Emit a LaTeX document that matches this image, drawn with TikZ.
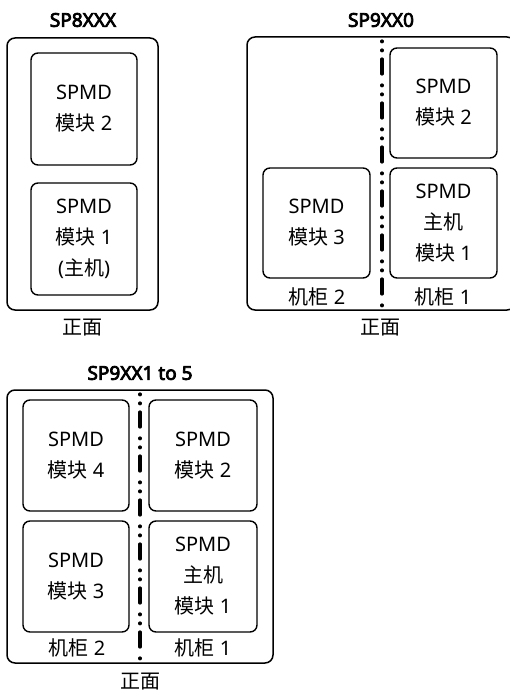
\documentclass[tikz,border=0pt]{standalone}
\usepackage{fontspec}
\setmainfont{Noto Sans}
\newfontfamily\cjk{Noto Sans CJK SC}
\newfontfamily\boldsans{Noto Sans}[FakeBold=4]
\newcommand\zh[1]{{\cjk #1}}
\begin{document}
\begin{tikzpicture}[x=1pt,y=-1pt,
  box/.style={draw, line width=1.5pt, rounded corners=8pt, inner sep=0pt},
  mod/.style={draw, line width=1.4pt, rounded corners=7pt, inner sep=0pt, align=center,
    font=\fontsize{20}{31}\selectfont},
  lbl/.style={font=\fontsize{20}{24}\selectfont, inner sep=0pt},
  ttl/.style={font=\fontsize{19}{24}\selectfont\boldsans, inner sep=0pt},
  divider/.style={line width=3.2pt, line cap=round,
    dash pattern=on 0.8pt off 8.2pt on 0.8pt off 8.2pt on 15pt off 11pt}]
\useasboundingbox (0,0) rectangle (510,690);

% ---------- SP8XXX ----------
\node[ttl] (t1) at (83,20) {SP8XXX};
\node[box, minimum width=151pt, minimum height=272pt] (b1) at (82.5,174) {};
\node[mod, minimum width=106pt, minimum height=112pt] (b1m2) at (84,109) {SPMD\\\zh{模块} 2};
\node[mod, minimum width=106pt, minimum height=112pt] (b1m1) at (84,239) {SPMD\\\zh{模块} 1\\(\zh{主机})};
\node[lbl] (f1) at (82,328) {\zh{正面}};

% ---------- SP9XX0 ----------
\node[ttl] (t2) at (381,20) {SP9XX0};
\node[box, minimum width=268pt, minimum height=273pt] (b2) at (381,173.5) {};
\coordinate (d2a) at (382,41);
\coordinate (d2b) at (382,308);
\draw[divider] (d2a) -- (d2b);
\node[mod, minimum width=107pt, minimum height=110pt] (b2m2) at (443.5,103) {SPMD\\\zh{模块} 2};
\node[mod, minimum width=107pt, minimum height=110pt] (b2m1) at (443.5,223) {SPMD\\\zh{主机}\\\zh{模块} 1};
\node[mod, minimum width=107pt, minimum height=110pt] (b2m3) at (316.5,223) {SPMD\\\zh{模块} 3};
\node[lbl] (c22) at (317,297) {\zh{机柜} 2};
\node[lbl] (c21) at (443,297) {\zh{机柜} 1};
\node[lbl] (f2) at (380,328) {\zh{正面}};

% ---------- SP9XX1 to 5 ----------
\node[ttl] (t3) at (140,373) {SP9XX1 to 5};
\node[box, minimum width=266pt, minimum height=273pt] (b3) at (140,526.5) {};
\coordinate (d3a) at (140,394);
\coordinate (d3b) at (140,661);
\draw[divider] (d3a) -- (d3b);
\node[mod, minimum width=106pt, minimum height=111pt] (b3m4) at (76,455.5) {SPMD\\\zh{模块} 4};
\node[mod, minimum width=108pt, minimum height=111pt] (b3m2) at (203,455.5) {SPMD\\\zh{模块} 2};
\node[mod, minimum width=106pt, minimum height=111pt] (b3m3) at (76,576.5) {SPMD\\\zh{模块} 3};
\node[mod, minimum width=108pt, minimum height=111pt] (b3m1) at (203,576.5) {SPMD\\\zh{主机}\\\zh{模块} 1};
\node[lbl] (c32) at (77,648) {\zh{机柜} 2};
\node[lbl] (c31) at (203,648) {\zh{机柜} 1};
\node[lbl] (f3) at (140,682) {\zh{正面}};
\end{tikzpicture}
\end{document}
